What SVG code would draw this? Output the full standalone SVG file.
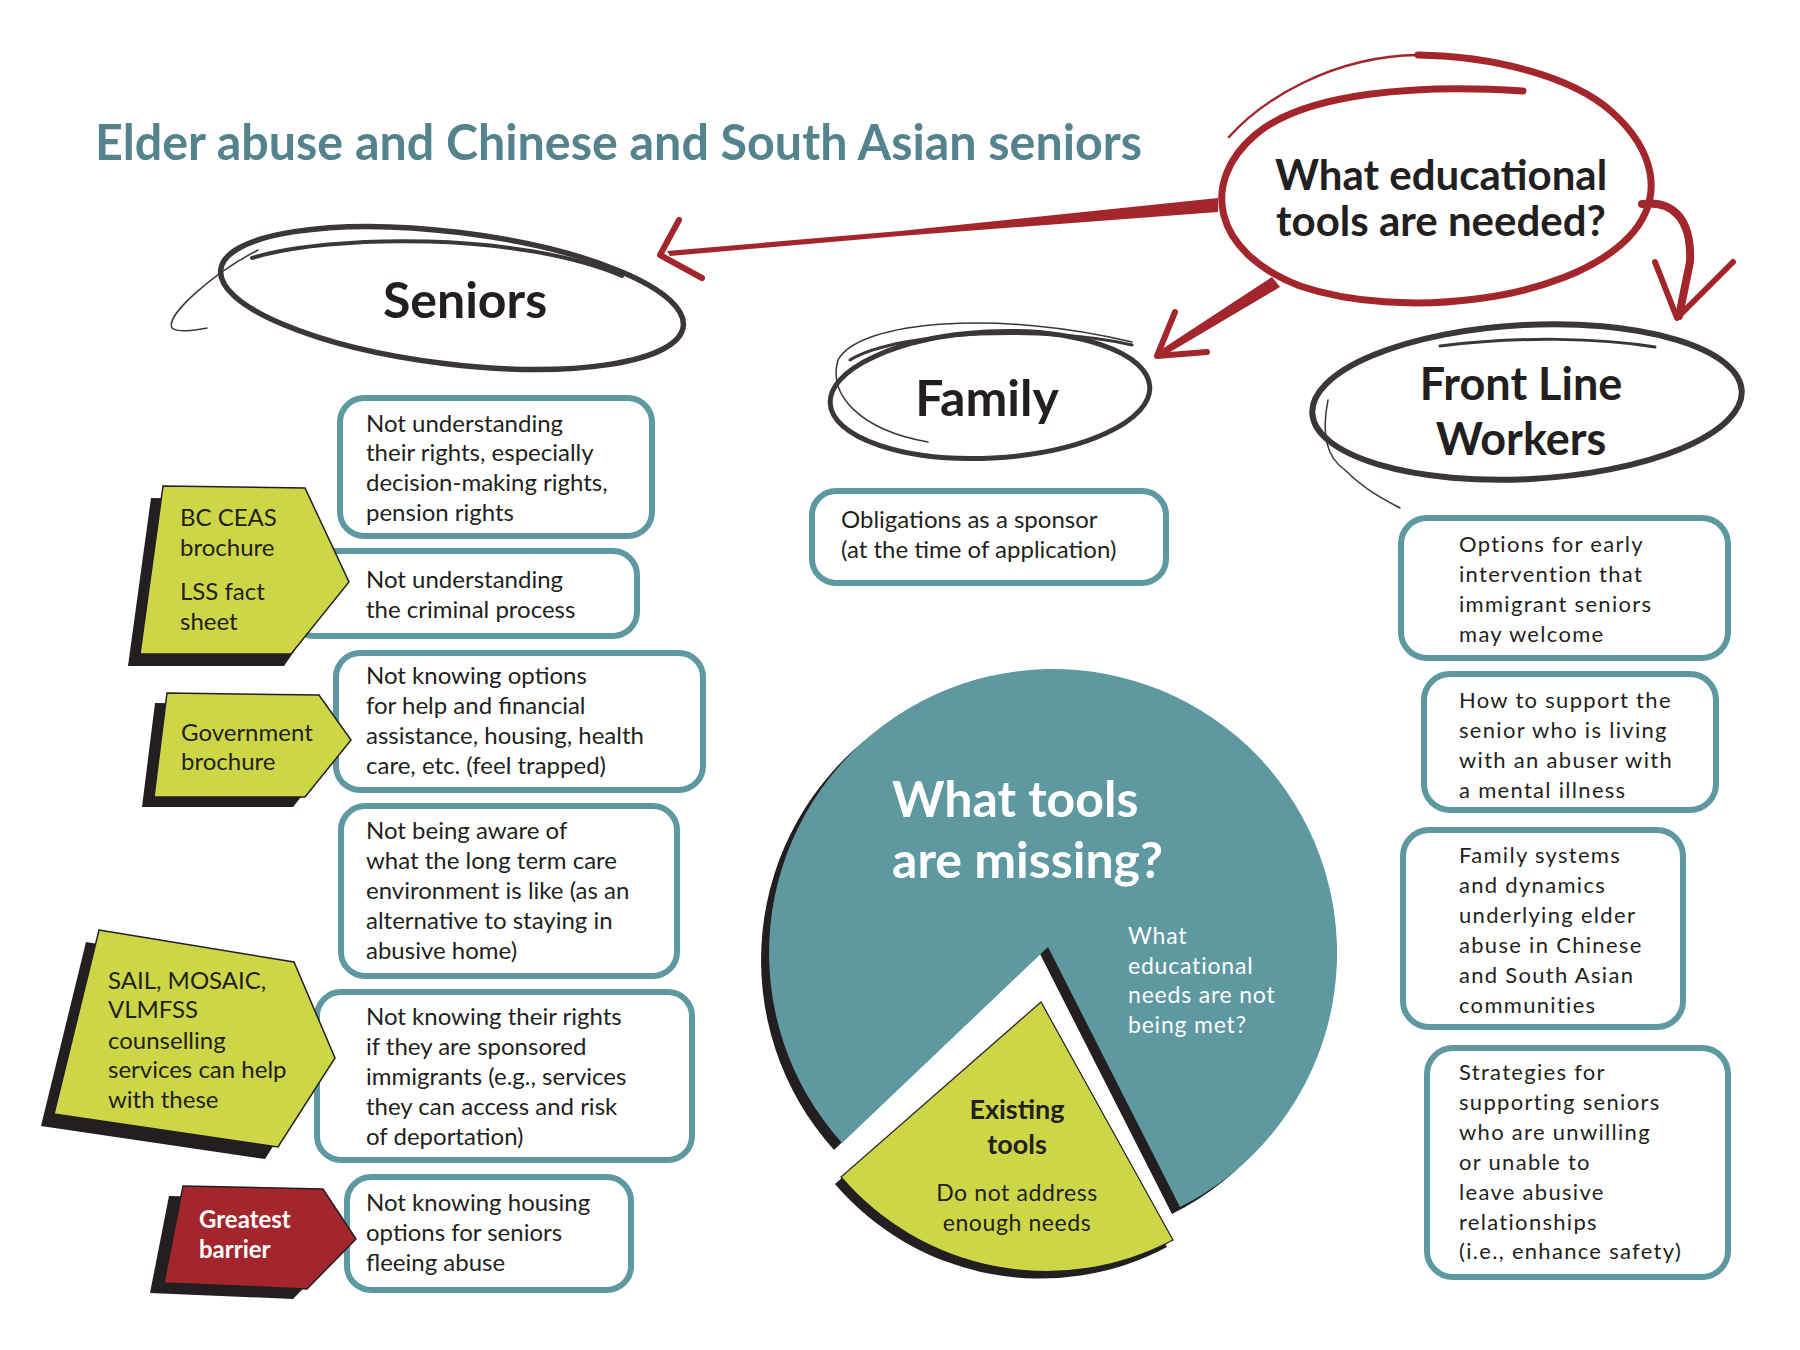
<svg xmlns="http://www.w3.org/2000/svg" width="1800" height="1350" viewBox="0 0 1800 1350">
<defs>
<style>
.bg{fill:#ffffff}
.title{font-family:Lato,"Open Sans",sans-serif;font-weight:700;font-size:50px;fill:#54838d}
.head{font-family:Lato,"Open Sans",sans-serif;font-weight:700;font-size:50px;fill:#231f20;text-anchor:middle}
.head2{font-family:Lato,"Open Sans",sans-serif;font-weight:700;font-size:45px;fill:#231f20;text-anchor:middle}
.q{font-family:Lato,"Open Sans",sans-serif;font-weight:700;font-size:42px;fill:#231f20;text-anchor:middle}
.box{fill:#ffffff;stroke:#5e98a1;stroke-width:6}
.bt{font-family:Lato,"Open Sans",sans-serif;font-size:24px;fill:#231f20}
.ft{font-family:Lato,"Open Sans",sans-serif;font-size:22px;fill:#231f20;letter-spacing:1.3px}
.yel{fill:#ccd646;stroke:#231f20;stroke-width:1.5}
.red{fill:#a3262d;stroke:#231f20;stroke-width:1.5}
.shadow{fill:#231f20}
.ink{fill:none;stroke:#3b3637;stroke-linecap:round;stroke-linejoin:round}
.rink{fill:none;stroke:#a3262d;stroke-linecap:round;stroke-linejoin:round}
.rfill{fill:#a3262d}
.wbig{font-family:Lato,"Open Sans",sans-serif;font-weight:700;font-size:50px;fill:#ffffff}
.wsm{font-family:Lato,"Open Sans",sans-serif;font-size:23px;fill:#ffffff;letter-spacing:0.8px}
.dbold{font-family:Lato,"Open Sans",sans-serif;font-weight:700;font-size:27px;fill:#231f20;text-anchor:middle}
.dsm{font-family:Lato,"Open Sans",sans-serif;font-size:23px;fill:#231f20;text-anchor:middle;letter-spacing:0.6px}
</style>
</defs>
<rect class="bg" x="0" y="0" width="1800" height="1350"/>

<text id="title" class="title" x="95" y="160" textLength="1047" lengthAdjust="spacingAndGlyphs">Elder abuse and Chinese and South Asian seniors</text>

<g id="connectors">
  <polygon class="rfill" points="1218,198 1218,212 900,236 670,256 667,251 900,231"/>
  <path class="rink" stroke-width="6" d="M 679 220 L 660 255 L 702 278"/>
  <polygon class="rfill" points="1272,277 1280,287 1160,358 1156,353"/>
  <path class="rink" stroke-width="6" d="M 1175 312 L 1157 356 L 1207 352"/>
  <path class="rink" stroke-width="8" d="M 1642 204 C 1672 200 1692 218 1690 262 L 1679 316"/>
  <path class="rink" stroke-width="6" d="M 1655 262 L 1677 318 L 1733 262"/>
</g>

<g id="node-question">
  <path class="rink" stroke-width="7" d="M 1523 91 C 1420 84 1305 92 1255 135 C 1200 182 1212 252 1300 286 C 1400 320 1565 302 1628 238 C 1668 196 1652 148 1612 112 C 1572 76 1492 56 1418 55"/>
  <path class="rink" stroke-width="2.5" d="M 1418 55 C 1332 56 1262 100 1229 137"/>
  <text class="q" x="1441" y="190"><tspan x="1441" y="190">What educational</tspan><tspan x="1441" y="236">tools are needed?</tspan></text>
</g>

<g id="node-seniors">
  <ellipse class="ink" stroke-width="5.5" cx="452" cy="298" rx="233" ry="66" transform="rotate(7 452 298)"/>
  <path class="ink" stroke-width="4" d="M 252 258 C 330 234 520 232 622 276"/>
  <path class="ink" stroke-width="1.5" d="M 258 250 C 215 272 165 315 172 328 C 178 333 195 330 207 328"/>
  <text class="head" x="465" y="318">Seniors</text>
</g>

<g id="node-family">
  <ellipse class="ink" stroke-width="5" cx="990" cy="395" rx="160" ry="63" transform="rotate(-3 990 395)"/>
  <path class="ink" stroke-width="3" d="M 850 360 C 900 330 1050 326 1132 345"/>
  <path class="ink" stroke-width="1.5" d="M 1132 342 C 1000 310 860 320 838 360 C 828 395 860 430 928 442"/>
  <text class="head" x="987" y="416">Family</text>
</g>

<g id="node-frontline">
  <ellipse class="ink" stroke-width="6" cx="1527" cy="402" rx="215" ry="77" transform="rotate(-3 1527 402)"/>
  <path class="ink" stroke-width="3" d="M 1440 346 C 1520 336 1600 338 1655 347"/>
  <path class="ink" stroke-width="1.5" d="M 1328 400 C 1320 440 1330 460 1345 470 C 1365 490 1385 500 1400 508"/>
  <text class="head2" x="1521" y="400"><tspan x="1521" y="400">Front Line</tspan><tspan x="1521" y="455">Workers</tspan></text>
</g>

<g id="box-s1">
  <rect class="box" x="340" y="398" width="312" height="138" rx="24"/>
  <text class="bt" x="366" y="432">Not understanding</text>
  <text class="bt" x="366" y="461">their rights, especially</text>
  <text class="bt" x="366" y="491">decision-making rights,</text>
  <text class="bt" x="366" y="521">pension rights</text>
</g>
<g id="box-s2">
  <rect class="box" x="290" y="551" width="347" height="85" rx="24"/>
  <text class="bt" x="366" y="588">Not understanding</text>
  <text class="bt" x="366" y="618">the criminal process</text>
</g>
<g id="box-s3">
  <rect class="box" x="336" y="653" width="367" height="137" rx="24"/>
  <text class="bt" x="366" y="684">Not knowing options</text>
  <text class="bt" x="366" y="714">for help and financial</text>
  <text class="bt" x="366" y="744">assistance, housing, health</text>
  <text class="bt" x="366" y="774">care, etc. (feel trapped)</text>
</g>
<g id="box-s4">
  <rect class="box" x="341" y="806" width="336" height="170" rx="24"/>
  <text class="bt" x="366" y="839">Not being aware of</text>
  <text class="bt" x="366" y="869">what the long term care</text>
  <text class="bt" x="366" y="899">environment is like (as an</text>
  <text class="bt" x="366" y="929">alternative to staying in</text>
  <text class="bt" x="366" y="959">abusive home)</text>
</g>
<g id="box-s5">
  <rect class="box" x="317" y="992" width="375" height="168" rx="24"/>
  <text class="bt" x="366" y="1025">Not knowing their rights</text>
  <text class="bt" x="366" y="1055">if they are sponsored</text>
  <text class="bt" x="366" y="1085">immigrants (e.g., services</text>
  <text class="bt" x="366" y="1115">they can access and risk</text>
  <text class="bt" x="366" y="1145">of deportation)</text>
</g>
<g id="box-s6">
  <rect class="box" x="347" y="1177" width="284" height="113" rx="24"/>
  <text class="bt" x="366" y="1211">Not knowing housing</text>
  <text class="bt" x="366" y="1241">options for seniors</text>
  <text class="bt" x="366" y="1271">fleeing abuse</text>
</g>

<g id="tag-bcceas">
  <polygon class="shadow" points="151,498 293,500 335,592 284,666 128,666"/>
  <polygon class="yel" points="163,486 305,488 349,582 291,654 140,654"/>
  <text class="bt" x="180" y="526">BC CEAS</text>
  <text class="bt" x="180" y="556">brochure</text>
  <text class="bt" x="180" y="600">LSS fact</text>
  <text class="bt" x="180" y="630">sheet</text>
</g>
<g id="tag-government">
  <polygon class="shadow" points="155,703 307,705 339,750 293,807 142,807"/>
  <polygon class="yel" points="167,693 319,695 351,740 305,797 154,797"/>
  <text class="bt" x="181" y="741">Government</text>
  <text class="bt" x="181" y="770">brochure</text>
</g>
<g id="tag-sail">
  <polygon class="shadow" points="86,942 281,974 322,1070 265,1159 41,1126"/>
  <polygon class="yel" points="99,930 294,962 335,1058 278,1147 54,1114"/>
  <text class="bt" x="108" y="989">SAIL, MOSAIC,</text>
  <text class="bt" x="108" y="1018">VLMFSS</text>
  <text class="bt" x="108" y="1049">counselling</text>
  <text class="bt" x="108" y="1078">services can help</text>
  <text class="bt" x="108" y="1108">with these</text>
</g>
<g id="tag-greatest">
  <polygon class="shadow" points="169,1196 309,1199 342,1249 293,1299 150,1293"/>
  <polygon class="red" points="183,1186 323,1189 356,1239 307,1289 164,1283"/>
  <text class="bt" x="199" y="1228" style="fill:#ffffff;font-weight:700">Greatest</text>
  <text class="bt" x="199" y="1258" style="fill:#ffffff;font-weight:700">barrier</text>
</g>

<g id="box-family">
  <rect class="box" x="812" y="491" width="354" height="92" rx="24"/>
  <text class="bt" x="841" y="528">Obligations as a sponsor</text>
  <text class="bt" x="841" y="558">(at the time of application)</text>
</g>

<g id="box-f1">
  <rect class="box" x="1401" y="518" width="327" height="140" rx="26"/>
  <text class="ft" x="1459" y="552">Options for early</text>
  <text class="ft" x="1459" y="582">intervention that</text>
  <text class="ft" x="1459" y="612">immigrant seniors</text>
  <text class="ft" x="1459" y="642">may welcome</text>
</g>
<g id="box-f2">
  <rect class="box" x="1424" y="674" width="292" height="136" rx="26"/>
  <text class="ft" x="1459" y="708">How to support the</text>
  <text class="ft" x="1459" y="738">senior who is living</text>
  <text class="ft" x="1459" y="768">with an abuser with</text>
  <text class="ft" x="1459" y="798">a mental illness</text>
</g>
<g id="box-f3">
  <rect class="box" x="1403" y="830" width="280" height="197" rx="26"/>
  <text class="ft" x="1459" y="863">Family systems</text>
  <text class="ft" x="1459" y="893">and dynamics</text>
  <text class="ft" x="1459" y="923">underlying elder</text>
  <text class="ft" x="1459" y="953">abuse in Chinese</text>
  <text class="ft" x="1459" y="983">and South Asian</text>
  <text class="ft" x="1459" y="1013">communities</text>
</g>
<g id="box-f4">
  <rect class="box" x="1427" y="1048" width="301" height="229" rx="26"/>
  <text class="ft" x="1459" y="1080">Strategies for</text>
  <text class="ft" x="1459" y="1110">supporting seniors</text>
  <text class="ft" x="1459" y="1140">who are unwilling</text>
  <text class="ft" x="1459" y="1170">or unable to</text>
  <text class="ft" x="1459" y="1200">leave abusive</text>
  <text class="ft" x="1459" y="1230">relationships</text>
  <text class="ft" x="1459" y="1259">(i.e., enhance safety)</text>
</g>

<g id="pie-missing">
  <path class="shadow" d="M 1040 954 L 1172 1214 A 284 284 0 1 0 834 1150 Z"/>
  <path fill="#5e98a1" d="M 1048 947 L 1180 1207 A 284 284 0 1 0 842 1143 Z"/>
  <text class="wbig" x="892" y="817">What tools</text>
  <text class="wbig" x="892" y="878">are missing?</text>
  <text class="wsm" x="1128" y="944">What</text>
  <text class="wsm" x="1128" y="974">educational</text>
  <text class="wsm" x="1128" y="1003">needs are not</text>
  <text class="wsm" x="1128" y="1033">being met?</text>
</g>
<g id="pie-existing">
  <path class="shadow" d="M 1035 1009 L 835 1184 A 270 270 0 0 0 1167 1247 Z"/>
  <path fill="#ccd646" stroke="#231f20" stroke-width="1.2" d="M 1041 1002 L 841 1177 A 270 270 0 0 0 1173 1240 Z"/>
  <text class="dbold" x="1017" y="1119">Existing</text>
  <text class="dbold" x="1017" y="1154">tools</text>
  <text class="dsm" x="1017" y="1201">Do not address</text>
  <text class="dsm" x="1017" y="1231">enough needs</text>
</g>
</svg>
